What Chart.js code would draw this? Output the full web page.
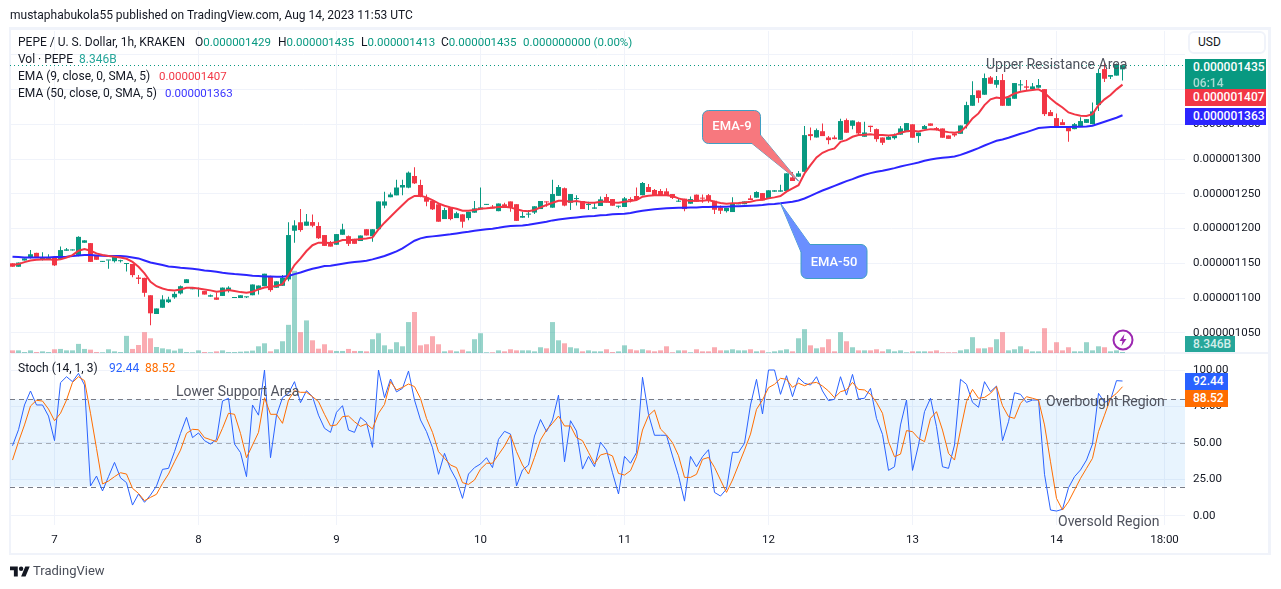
<!DOCTYPE html>
<html>
<head>
<meta charset="utf-8">
<title>PEPE / U. S. Dollar</title>
<script src="https://cdn.jsdelivr.net/npm/chart.js"></script>
<style>
  html, body { margin: 0; padding: 0; background: #fff; }
  body { width: 1281px; height: 589px; position: relative; overflow: hidden; font-family: Roboto, sans-serif; color: #131722; }
  canvas { position: absolute; left: 0; }
  .t { position: absolute; white-space: nowrap; font-size: 12px; line-height: 14px; }
  .num { font-size: 11.5px; }
  .frame { position: absolute; background: #f0f3fa; }
  .note { position: absolute; white-space: nowrap; font-size: 14px; line-height: 16px; color: #50535e; }
  .tag { position: absolute; color: #fff; font-size: 12px; font-weight: 500; line-height: 16px; padding-left: 8px; box-sizing: border-box; }
  .up { color: #089981; }
</style>
</head>
<body>
<div class="frame" style="left:9px;top:27px;width:2px;height:528px"></div>
<div class="frame" style="left:9px;top:27px;width:1262px;height:3px"></div>
<div class="frame" style="left:1268px;top:27px;width:3px;height:528px"></div>
<div class="frame" style="left:9px;top:553px;width:1262px;height:2px"></div>
<div class="frame" style="left:9px;top:352px;width:1262px;height:2px"></div>

<canvas id="priceChart" width="1281" height="375" style="top:0"></canvas>
<canvas id="stochChart" width="1281" height="249" style="top:340px"></canvas>

<div class="t" style="left:10px;top:8px">mustaphabukola55 published on TradingView.com, Aug 14, 2023 11:53 UTC</div>
<div class="t" style="left:18px;top:35px">PEPE / U. S. Dollar, 1h, KRAKEN</div>
<div class="t" style="left:195px;top:35px">O<span class="up num">0.000001429</span></div>
<div class="t" style="left:278px;top:35px">H<span class="up num">0.000001435</span></div>
<div class="t" style="left:361px;top:35px">L<span class="up num">0.000001413</span></div>
<div class="t" style="left:441px;top:35px">C<span class="up num">0.000001435</span></div>
<div class="t up num" style="left:523px;top:35px">0.000000000 (0.00%)</div>
<div class="t" style="left:18px;top:52px">Vol · PEPE</div>
<div class="t" style="left:79px;top:52px;color:#26a69a">8.346B</div>
<div class="t" style="left:18px;top:69px">EMA (9, close, 0, SMA, 5)</div>
<div class="t num" style="left:159px;top:69px;color:#f23645">0.000001407</div>
<div class="t" style="left:18px;top:86px">EMA (50, close, 0, SMA, 5)</div>
<div class="t num" style="left:165px;top:86px;color:#3a35ff">0.000001363</div>
<div class="t" style="left:18px;top:361px">Stoch (14, 1, 3)</div>
<div class="t" style="left:109px;top:361px;color:#2962ff">92.44</div>
<div class="t" style="left:145px;top:361px;color:#ff6d00">88.52</div>

<div class="t" style="left:1188px;top:31px;width:78px;height:23px;box-sizing:border-box;border:2px solid #f0f3fa;border-radius:6px;background:#fff;line-height:19px;padding-left:8px">USD</div>
<div class="tag" style="left:1185px;top:59px;width:81px;height:30px;background:#089981">0.000001435<br><span style="opacity:.65">06:14</span></div>
<div class="tag" style="left:1185px;top:89px;width:81px;height:17px;background:#f23645">0.000001407</div>
<div class="tag" style="left:1185px;top:108px;width:81px;height:17px;background:#2c25ff">0.000001363</div>
<div class="tag" style="left:1185px;top:336px;width:50px;height:16px;background:#26a69a;line-height:16px;color:#d4eeea">8.346B</div>
<div class="tag" style="left:1185px;top:373px;width:43px;height:17px;background:#2962ff">92.44</div>
<div class="tag" style="left:1185px;top:390px;width:43px;height:17px;background:#ff6d00">88.52</div>

<div class="note" style="left:986px;top:56px">Upper Resistance Area</div>
<div class="note" style="left:176px;top:383px">Lower Support Area</div>
<div class="note" style="left:1046px;top:393px">Overbought Region</div>
<div class="note" style="left:1058px;top:513px">Oversold Region</div>
<div class="t" id="lblEma9" style="left:702px;top:119px;width:60px;text-align:center;color:#fff;font-size:13px;font-weight:500">EMA-9</div>
<div class="t" id="lblEma50" style="left:801px;top:255px;width:66px;text-align:center;color:#fff;font-size:13px;font-weight:500">EMA-50</div>

<svg style="position:absolute;left:1112px;top:329px" width="22" height="22" viewBox="0 0 22 22">
  <circle cx="11" cy="11" r="9.5" fill="#fff" stroke="#9c27b0" stroke-width="2"/>
  <path d="M12.5 5 L7.5 12 H10.5 L9.5 17 L14.5 10 H11.5 Z" fill="#9c27b0"/>
</svg>
<svg style="position:absolute;left:10px;top:564px" width="20" height="16" viewBox="0 0 36 28">
  <path d="M14 22H7V11H0V4h14v18zM28 22h-8l7.5-18h8L28 22z" fill="#131722"/>
  <circle cx="20" cy="8" r="4" fill="#131722"/>
</svg>
<div class="t" style="left:33px;top:564px;font-size:13px;color:#4a4e59">TradingView</div>

<script>
// prices are in units of 0.000000001 USD, volumes in billions
const opens = [
  1150,1145,1154,1158,1165,1156,1156,1158,1156,1168,
  1168.5,1162,1179.5,1179,1162,1152,1154,1153,1153,1149,
  1149,1129.5,1129,1104,1077,1086,1094,1101,1106.6,1121.5,
  1112.6,1113,1110,1102,1100.8,1103,1110.5,1100,1100,1101,
  1104,1112.4,1117,1130.6,1114.8,1117.6,1126.8,1196.8,1209,1204,
  1209.3,1203.6,1190.6,1178.6,1176.7,1191,1189,1185.3,1182,1199,
  1189,1199,1233,1245,1247.7,1259,1258.8,1275.6,1262.6,1244.4,
  1240,1234.8,1213.6,1230.4,1215,1220.4,1215,1222.8,1227.6,1234,
  1231.4,1225,1234.8,1239,1235,1215.6,1220,1223,1228,1239,
  1230,1247,1258,1237,1242.4,1239.6,1233.8,1228.5,1232.4,1245.3,
  1242.4,1231.4,1231,1241.5,1246.8,1248,1259.7,1255.4,1254,1253.5,
  1249.6,1238.6,1243,1235.7,1248.7,1243.9,1248,1240,1230.4,1225,
  1223.7,1234.8,1235,1243.4,1244.4,1251,1243.4,1253,1253,1254,
  1273.6,1274.6,1281.6,1335.8,1331,1340,1331,1331,1327.7,1356,
  1347.8,1353,1332,1347.8,1343,1331,1327.7,1330,1335,1338.7,
  1350,1333,1343,1351.2,1344.5,1344,1334,1336.8,1336.3,1350.2,
  1376.6,1398.7,1392.5,1417.4,1406.9,1413.6,1376.6,1386.7,1406,1404.5,
  1400.6,1402.6,1400.6,1367.5,1358.9,1353,1345.4,1343,1346,1352,
  1350.2,1377.6,1429.4,1418.4,1420,1429
];
const highs = [
  1150,1151,1157,1169,1165,1166,1163,1159,1174,1172,
  1169,1189,1183,1179,1162,1153,1154.5,1161,1155,1150,
  1149,1133,1129,1104,1085,1104,1102,1109,1118,1127,
  1113,1115,1110,1105,1108,1115,1117,1101,1104,1102,
  1119.5,1118,1135,1132,1124,1133,1209,1212,1228,1221,
  1220,1209,1190.6,1182,1192,1207,1190,1185.3,1190,1199,
  1199,1239,1253,1252,1270,1270,1282,1288,1270,1249,
  1241,1234.8,1230,1231,1224,1220.4,1224,1239.6,1259,1235,
  1234,1236,1237,1239,1235,1224,1226.6,1232,1239.6,1239,
  1270,1262.6,1259,1249.6,1248,1239.6,1238.6,1237.6,1246,1249.6,
  1242.4,1232.8,1245.3,1245,1259,1267,1264,1257,1257,1258,
  1249.6,1243.4,1243,1246,1249,1249,1249.6,1240,1233.3,1229.5,
  1245,1235.7,1239,1247.7,1253.5,1251,1255,1255,1263,1279.4,
  1281.3,1282.8,1347.4,1345.4,1344,1351,1333,1334,1358,1358.4,
  1355.5,1354,1353.6,1348,1344,1331,1334.4,1336.8,1347.4,1351.7,
  1350,1338,1348.8,1351.2,1346,1344,1334,1336.8,1348.3,1382.4,
  1412,1398.7,1423,1419.4,1419.4,1422.2,1388.6,1409.3,1413.6,1413.6,
  1409.3,1415,1400.6,1370.4,1365.6,1357.4,1345.4,1352,1360,1357.4,
  1381.4,1430,1439,1420.8,1437.6,1435
];
const lows = [
  1145,1145,1154,1157,1158,1154,1155,1146,1156,1168,
  1168.5,1160,1179.5,1152,1155,1152,1142,1151,1151,1138,
  1130,1120,1102,1061,1077,1086,1093,1099,1105,1121.5,
  1112.6,1102,1105,1102,1097.5,1103,1108,1100,1100,1100,
  1104,1105,1117,1109,1114.8,1117.6,1124,1179.6,1195.4,1204,
  1202,1185,1175,1174,1176.7,1191,1175,1178,1182,1190,
  1181,1199,1229,1245,1247.7,1248,1258,1264,1245,1232,
  1226.6,1209.8,1213.6,1212,1215,1201,1212,1222.8,1227.6,1234,
  1229,1225,1230.4,1224,1211,1215.6,1215.6,1221,1228,1231.4,
  1230,1247,1232,1226.6,1233,1228,1226.6,1228.5,1232.4,1237.6,
  1232.8,1229,1231,1237.6,1241,1248,1252.5,1247.2,1247.2,1247.7,
  1242.4,1238.6,1225,1235.7,1238.6,1237,1237,1221,1221,1223,
  1223.7,1234.8,1235,1241,1244.4,1240.5,1243.4,1253,1253,1254,
  1268.4,1274.6,1281.6,1327,1331,1333,1321.4,1328.6,1327.7,1337.8,
  1343,1335.4,1332,1339,1325,1320,1327.7,1328,1335,1338.7,
  1330.6,1323.4,1343,1347.8,1341,1330.6,1329,1332,1336.3,1344,
  1376.6,1381,1392.5,1408.3,1402.6,1376.6,1376.6,1386.7,1398.2,1399,
  1400.6,1402.6,1362,1361.8,1347.4,1348.8,1324.8,1343,1346,1352,
  1350.2,1369,1411,1415,1420,1413
];
const closes = [
  1145,1151,1157,1163,1158,1159,1157,1147,1169,1170,
  1169,1188,1183,1152,1155,1153,1154.5,1159,1154,1150,
  1133,1127.5,1107.5,1078,1085,1098,1098,1106,1117,1127,
  1113,1114,1105,1104,1097.5,1115,1115,1101,1104,1101.5,
  1119.5,1118,1135,1111.4,1124,1129,1190.6,1204.5,1197.8,1210,
  1204,1186,1175,1174,1192,1198.8,1178,1178,1190,1190,
  1199,1239,1239,1249,1259,1262.6,1280.4,1265,1245.8,1238.6,
  1227.6,1209.8,1226.6,1213.6,1222,1209.8,1224,1229,1230.4,1235,
  1229,1236,1230.4,1230.4,1211,1218,1220.5,1232,1239.6,1237.6,
  1249.6,1259.7,1233,1249.6,1243.4,1228,1235.2,1230.4,1242,1237.6,
  1232.8,1232.8,1243.4,1241,1241,1265.5,1252.5,1247.2,1247.2,1247.7,
  1244,1239.6,1228,1242.4,1238.6,1243,1241,1227,1225.6,1229.5,
  1236,1235.7,1239,1241,1252.5,1240.5,1255,1255,1255,1279.4,
  1268.4,1279.4,1334.4,1333,1341.6,1333,1327.2,1328.6,1354.6,1337.8,
  1355.5,1336.8,1338.2,1346,1328.6,1323.4,1332,1334,1344,1351.7,
  1330.6,1338,1347.4,1347.8,1342.6,1330.6,1329,1334,1348.3,1377.6,
  1392,1387.7,1416.5,1408.3,1413.6,1376.6,1388.6,1409.3,1407.4,1402.6,
  1404.5,1406.4,1364.6,1361.8,1347.4,1348.8,1340,1350.2,1354.6,1357.4,
  1368.5,1423.7,1415.5,1420.8,1435.7,1435
];
const volumes = [
  22,22,8,22,8,14,8,31,34,22,
  22,76,34,28,8,6,31,14,8,143,
  34,67,174,123,50,39,31,20,36,8,
  6,22,8,6,14,22,8,8,11,14,
  20,56,81,14,31,98,235,686,174,272,
  106,36,73,22,17,17,34,17,17,14,
  115,165,64,31,90,56,258,342,64,73,
  140,73,14,22,14,28,14,115,165,6,
  6,22,14,31,22,22,22,14,48,39,
  258,106,81,48,39,14,22,14,14,31,
  8,14,64,31,22,31,22,14,22,56,
  6,22,22,6,31,14,14,48,22,22,
  31,22,22,31,14,22,6,14,22,31,
  14,123,199,64,39,48,115,14,174,98,
  48,22,22,22,31,14,31,14,22,6,
  14,14,14,14,22,6,6,6,22,31,
  132,39,39,48,115,174,22,31,56,31,
  14,14,207,22,90,22,48,14,14,90,
  22,56,48,14,22,8.346
];
const ema9 = [
  1147.4,1148.8,1151.7,1154,1155,1155.6,1155.6,1154.6,1155.6,1158.4,
  1161.8,1168,1170.4,1168,1164.2,1161.8,1160.4,1159.4,1158.4,1156.5,
  1152,1145,1135.4,1123.4,1117,1113.8,1111.4,1111,1112.4,1114.8,
  1114.8,1113.8,1112.4,1111,1109,1110,1111.4,1110,1108.5,1107.6,
  1109,1112.4,1115.2,1116.2,1117.2,1120,1133,1147.4,1157,1167.6,
  1176,1179.6,1179.6,1179,1180.5,1183.4,1183.4,1183.4,1184.8,1185.8,
  1187.2,1198.8,1208.4,1217,1225.6,1233.8,1242,1246.8,1247,1244.8,
  1241,1236.2,1232.8,1230.4,1228.5,1225.6,1225.6,1226.6,1228.5,1229,
  1230,1231,1231.4,1230.4,1227.6,1225.6,1225,1226.6,1230.4,1233.8,
  1237,1240,1240,1238.6,1239.6,1238,1237,1237,1238.6,1239,
  1237.6,1237,1238.6,1239.6,1241,1245.8,1247.2,1247.7,1248,1248,
  1246.8,1243.4,1241,1239.6,1240,1240,1241,1238.6,1236.7,1235.7,
  1236.2,1236.7,1237.6,1238.6,1240.5,1241.5,1243.4,1244.8,1246.8,1253,
  1257.6,1262.4,1279.2,1291.2,1302.2,1309,1312.8,1315.2,1324.8,1327.2,
  1332,1334.4,1334.9,1335.8,1334.4,1334.4,1334,1334.4,1337.8,1340,
  1340.6,1339.7,1341.6,1343,1342.6,1340,1338.7,1337.8,1339.2,1347.4,
  1358.4,1365.6,1377.6,1385.8,1388.6,1387.2,1389.6,1394.4,1396.8,1398.2,
  1399.2,1400.2,1395.4,1387.2,1380,1374.2,1367,1364.2,1362.2,1361.8,
  1364.6,1377.6,1385.8,1392,1400.2,1407
];
const ema50 = [
  1159.4,1158.9,1158.4,1158.4,1158.4,1158.4,1158.4,1158.9,1158.9,1159.4,
  1160.4,1161.3,1161.8,1161.8,1161.3,1160.8,1160.4,1160.4,1160.4,1159.9,
  1158.4,1157,1154,1151.2,1149.3,1147.4,1145.5,1144.5,1143.6,1143,
  1142.1,1141.2,1139.7,1138.8,1137.8,1136.4,1135.4,1134.4,1134,1133,
  1132,1131.6,1131,1131,1130.6,1130.6,1131.6,1134.4,1136.8,1139.7,
  1142.1,1144,1146,1146.4,1147.9,1149.3,1150.8,1151.7,1152.7,1153.6,
  1155.6,1158,1160.4,1163.7,1167,1171.5,1177,1182.4,1185.8,1187.7,
  1188.7,1189.6,1190.6,1191.6,1193,1194.4,1195.4,1196.8,1197.8,1198.8,
  1199.7,1201,1202.6,1203.6,1204,1204.5,1205.5,1207,1208.4,1209.8,
  1211.7,1213,1214,1215,1216,1217,1217.5,1218,1219,1219.4,
  1220.4,1220.8,1221.3,1222.3,1224.2,1225.6,1226.6,1227.6,1228.5,1229,
  1229.5,1230,1230,1230.4,1230.4,1231,1231,1231.4,1231.4,1231.4,
  1231.9,1231.9,1232.4,1232.8,1233.3,1233.8,1234.8,1235.2,1236.2,1237.4,
  1238.4,1240.3,1243.2,1247,1250.9,1254.7,1258,1261.4,1264.8,1268.2,
  1271,1274.4,1277.3,1279.7,1281.6,1283,1285,1286.9,1289.3,1291.2,
  1293,1295,1297.4,1299.4,1300.8,1301.8,1302.7,1303.7,1306,1309,
  1312.3,1315.7,1319.5,1322.9,1326.2,1328.2,1330.6,1333.4,1336.3,1338.7,
  1341.6,1344.5,1345.4,1345.9,1345.9,1345.9,1345.9,1346.4,1346.4,1346.9,
  1347.8,1350.7,1353.6,1356.5,1359.4,1363
];
const stochK = [
  48,59,76,85.6,76,76,68.4,51.5,91.3,95.4,
  92,97.7,89.7,20.4,27.2,17,26.8,36.6,26,22.7,
  7.3,14.9,9.2,14.2,20.4,31.8,32.5,44,56.5,67.5,
  53.6,56.8,51.5,49.2,52.4,78.7,80.6,49.2,43.3,26.8,
  76,69,100,39.8,69,81,84,92,77.6,85.8,
  81.7,69,60,57.2,71,75.5,58.8,57.2,67.5,64,
  46.9,100,81,93.8,85,87.4,99.3,79.4,65.7,57.7,
  46.7,28.4,42.8,32,24.5,11.9,28.6,33,35.5,39.8,
  33,52.4,57.9,56,20.4,31.4,34.8,54.7,66,57.7,
  65.7,82.8,37,65.2,58.1,32,40.7,33.6,50.4,45,
  29.5,14.9,40.7,36,43.3,95,69.6,55.2,55.2,55.2,
  41,27.5,10,40.7,33.6,40.5,45.3,16,13.5,18.3,
  43.5,43.5,49.7,76,93.6,69.8,100,100,83.3,96.1,
  81.7,94.7,90.9,89.7,95.4,85.6,79,79.9,95.4,82.8,
  97,80.1,80.6,87.4,66.8,55.8,31.1,33.6,62.3,79.4,
  31.1,48.5,71.4,80.6,61.1,33.6,32.5,48.5,93.6,90.2,
  77.8,74.4,92,85.1,89,51.5,64.5,84.4,83.3,77.8,
  79.4,79.4,28.4,3.9,3.2,4.4,19.2,26.8,31.4,38.2,
  49.2,84,77.8,79.4,92.7,92.44
];
const stochD = [
  38.2,50.8,62.3,75.3,79.2,78.7,73.2,65.2,70.3,79.4,
  91.5,95.4,92.7,70.3,46.2,21.8,23.8,26.8,29.5,28.6,
  18.8,15.3,10.3,12.6,14.7,22.2,28.6,37,45,56.5,
  59.3,59,53.6,52.2,50.8,60,70.3,69.6,56.5,39.8,
  48.5,57.2,81,69.6,69.6,63.4,79.4,85.8,84.7,84.7,
  81.7,78.3,69.6,61.6,62.3,68,68.4,64.5,61.3,63,
  59.5,70.3,76.4,92,86.3,88.1,90.4,88.6,80.5,66.8,
  57.2,44,39.4,34.8,33,22.7,21.5,24.5,32,36,
  36,41.9,47.8,55.4,44,34.8,28.6,40,52,58.8,
  63.4,68.4,61.6,61.6,53.6,51.5,43.5,35.5,41.7,42.8,
  41,29,27.9,30.9,40.5,58.8,68.7,72.5,59.5,55.4,
  50.1,41.2,26.3,26.3,28.4,38.7,40,33.2,24.5,16,
  24.5,34.8,45,56,73,79.4,87.9,90.2,94.3,93.6,
  88.1,90.9,89.2,90.9,91.5,89,85.6,81,85.1,86.3,
  91.5,86.7,86.3,83.3,77.8,70.3,50.8,40.5,42.3,58.4,
  57.7,53.1,50.8,66.8,71.4,58.8,42.8,38.2,58.8,78.3,
  86.7,80.6,81.2,84,88.6,75.5,68,66.8,77.1,81.7,
  80.6,79.4,62.3,37,11.9,3.9,9.6,17.6,25.6,32.5,
  39.4,57.7,69,80.6,84,88.52
];
const dayTicks = [7, 31, 54, 78, 102, 126, 150, 174, 192];
const dayLabels = ['7', '8', '9', '10', '11', '12', '13', '14', '18:00'];

const GREEN = '#089981';
const RED = '#f23645';
const GRID = '#f0f3fa';
const TICK_FONT = { family: 'Roboto', size: 11.5 };

const xy = (arr) => arr.map((y, x) => ({ x, y }));
const isUp = (i) => closes[i] >= opens[i];

// both panes share the same x axis, one bar slot is 6px
const xAxis = (showTicks) => ({
  type: 'linear',
  min: -0.41667,
  max: 195.41667,
  offset: false,
  afterBuildTicks(axis) { axis.ticks = dayTicks.map(value => ({ value })); },
  afterFit(axis) { axis.height = showTicks ? 28 : 0; },
  grid: { color: GRID, offset: false, drawTicks: false },
  border: { display: false },
  ticks: {
    display: showTicks, autoSkip: false, maxRotation: 0, padding: 8,
    color: '#131722', font: TICK_FONT,
    callback: (v) => dayLabels[dayTicks.indexOf(v)]
  }
});

const yAxis = (min, max, step, label) => ({
  position: 'right',
  min, max,
  afterFit(axis) { axis.width = 85; },
  grid: { color: GRID, drawTicks: false },
  border: { display: false },
  ticks: { stepSize: step, includeBounds: false, padding: 8, color: '#131722', font: TICK_FONT, callback: label }
});

function hLine(chart, y, color, dash) {
  const { ctx, chartArea } = chart;
  ctx.save();
  ctx.strokeStyle = color;
  ctx.lineWidth = 1;
  ctx.setLineDash(dash);
  ctx.beginPath();
  ctx.moveTo(chartArea.left, Math.round(y) + 0.5);
  ctx.lineTo(chartArea.right, Math.round(y) + 0.5);
  ctx.stroke();
  ctx.restore();
}

// speech bubble with its tip on a data point
function bubble(ctx, box, tip, base1, base2, fill) {
  ctx.save();
  ctx.fillStyle = fill;
  ctx.strokeStyle = '#3f9fc4';
  ctx.lineWidth = 1;
  ctx.beginPath();
  ctx.roundRect(box.x, box.y, box.w, box.h, 6);
  ctx.fill();
  ctx.stroke();
  ctx.beginPath();
  ctx.moveTo(base1.x, base1.y);
  ctx.lineTo(tip.x, tip.y);
  ctx.lineTo(base2.x, base2.y);
  ctx.stroke();
  ctx.lineTo(base1.x, base1.y);
  ctx.fill();
  ctx.restore();
}

const lastPriceLine = {
  id: 'lastPriceLine',
  afterDatasetsDraw(chart) {
    hLine(chart, chart.scales.y.getPixelForValue(closes[closes.length - 1]), GREEN, [1, 3]);
  }
};

const callouts = {
  id: 'callouts',
  afterDatasetsDraw(chart) {
    const { x, y } = chart.scales;
    const ctx = chart.ctx;
    bubble(ctx, { x: 702.5, y: 110.5, w: 58, h: 33 },
      { x: x.getPixelForValue(131), y: y.getPixelForValue(closes[130]) },
      { x: 760.5, y: 135 }, { x: 752, y: 143.5 }, '#f7787e');
    bubble(ctx, { x: 801, y: 244.5, w: 66, h: 34 },
      { x: x.getPixelForValue(128), y: y.getPixelForValue(ema50[128]) },
      { x: 801, y: 252 }, { x: 810, y: 244.5 }, '#6a8fff');
  }
};

const stochBand = {
  id: 'stochBand',
  beforeDatasetsDraw(chart) {
    const { ctx, chartArea, scales } = chart;
    const top = scales.y.getPixelForValue(80);
    const bottom = scales.y.getPixelForValue(20);
    ctx.save();
    ctx.fillStyle = 'rgba(33,150,243,0.1)';
    ctx.fillRect(chartArea.left, top, chartArea.right - chartArea.left, bottom - top);
    ctx.restore();
    hLine(chart, top, '#787b86', [5, 4]);
    hLine(chart, scales.y.getPixelForValue(50), 'rgba(120,123,134,0.6)', [5, 4]);
    hLine(chart, bottom, '#787b86', [5, 4]);
  }
};

new Chart(document.getElementById('priceChart'), {
  type: 'bar',
  plugins: [lastPriceLine, callouts],
  data: {
    datasets: [
      {
        label: 'Vol', yAxisID: 'volume', order: 4, grouped: false, barThickness: 5, inflateAmount: 0,
        data: xy(volumes),
        backgroundColor: volumes.map((v, i) => isUp(i) ? 'rgba(8,153,129,0.42)' : 'rgba(242,54,69,0.42)')
      },
      {
        label: 'Wick', yAxisID: 'y', order: 3, grouped: false, barThickness: 1, inflateAmount: 0, minBarLength: 1,
        data: highs.map((h, x) => ({ x, y: [lows[x], h] })),
        backgroundColor: closes.map((c, i) => isUp(i) ? GREEN : RED)
      },
      {
        label: 'Body', yAxisID: 'y', order: 2, grouped: false, barThickness: 5, inflateAmount: 0, minBarLength: 1,
        data: opens.map((o, x) => ({ x, y: [Math.min(o, closes[x]), Math.max(o, closes[x])] })),
        backgroundColor: closes.map((c, i) => isUp(i) ? GREEN : RED)
      },
      {
        type: 'line', label: 'EMA 50', yAxisID: 'y', order: 1, data: xy(ema50),
        borderColor: '#2c25ff', borderWidth: 2, pointRadius: 0, tension: 0
      },
      {
        type: 'line', label: 'EMA 9', yAxisID: 'y', order: 0, data: xy(ema9),
        borderColor: RED, borderWidth: 2, pointRadius: 0, tension: 0
      }
    ]
  },
  options: {
    responsive: false,
    animation: false,
    layout: { padding: { left: 10, right: 11, top: 31, bottom: 22 } },
    plugins: { legend: { display: false }, tooltip: { enabled: false } },
    scales: {
      x: xAxis(false),
      // the two top levels sit behind the USD button and the price tags
      y: yAxis(1020.9, 1484.2, 50, (v) => v > 1380 ? '' : (v / 1e9).toFixed(9)),
      volume: { display: false, min: 0, max: 2687 }
    }
  }
});

new Chart(document.getElementById('stochChart'), {
  type: 'line',
  plugins: [stochBand],
  data: {
    datasets: [
      { label: '%K', data: xy(stochK), borderColor: '#2962ff', borderWidth: 1, pointRadius: 0, tension: 0, order: 1 },
      { label: '%D', data: xy(stochD), borderColor: '#ff6d00', borderWidth: 1, pointRadius: 0, tension: 0, order: 0 }
    ]
  },
  options: {
    responsive: false,
    animation: false,
    layout: { padding: { left: 10, right: 11, top: 15, bottom: 36 } },
    plugins: { legend: { display: false }, tooltip: { enabled: false } },
    scales: {
      x: xAxis(true),
      y: yAxis(-6.38, 110.3, 25, (v) => v.toFixed(2))
    }
  }
});
</script>
</body>
</html>
